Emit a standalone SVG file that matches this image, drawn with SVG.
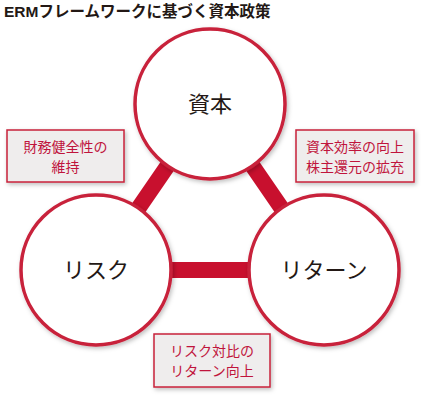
<svg xmlns="http://www.w3.org/2000/svg" width="426" height="400" viewBox="0 0 426 400">
<defs>
<filter id="sh" x="-20%" y="-20%" width="140%" height="140%">
<feDropShadow dx="1.5" dy="2" stdDeviation="2" flood-color="#000" flood-opacity="0.25"/>
</filter>
<style>
.title{font-family:"Liberation Sans","Noto Sans CJK JP",sans-serif;font-size:15.5px;font-weight:bold;fill:#231815}
.node circle{fill:#fff;stroke:#c8203a;stroke-width:3.5;filter:url(#sh)}
.node text{font-family:"Noto Sans CJK JP",sans-serif;font-size:22px;fill:#231815;text-anchor:middle}
.box rect{fill:#efeded;stroke:#c8203a;stroke-width:1.5;filter:url(#sh)}
.box text{font-family:"Noto Sans CJK JP",sans-serif;font-size:14px;fill:#c0143c;text-anchor:middle}
.conn line{stroke:#c8102e;stroke-width:16}
</style>
</defs>
<rect width="426" height="400" fill="#fff"/>
<text class="title" x="4" y="17">ERMフレームワークに基づく資本政策</text>
<g id="connectors" class="conn">
<line x1="210" y1="104" x2="96" y2="270"/>
<line x1="210" y1="104" x2="324" y2="270"/>
<line x1="96" y1="270" x2="324" y2="270"/>
</g>
<g id="capital" class="node"><circle cx="210" cy="104" r="75"/><text x="210" y="112">資本</text></g>
<g id="risk" class="node"><circle cx="96" cy="270" r="75"/><text x="96" y="278">リスク</text></g>
<g id="return" class="node"><circle cx="324" cy="270" r="75"/><text x="324" y="278">リターン</text></g>
<g id="box-left" class="box"><rect x="7" y="130" width="117" height="52"/><text x="65.5" y="152">財務健全性の</text><text x="65.5" y="172">維持</text></g>
<g id="box-right" class="box"><rect x="296" y="130" width="118" height="52"/><text x="355" y="152">資本効率の向上</text><text x="355" y="172">株主還元の拡充</text></g>
<g id="box-bottom" class="box"><rect x="154" y="334" width="116" height="53"/><text x="212" y="356">リスク対比の</text><text x="212" y="376">リターン向上</text></g>
</svg>
